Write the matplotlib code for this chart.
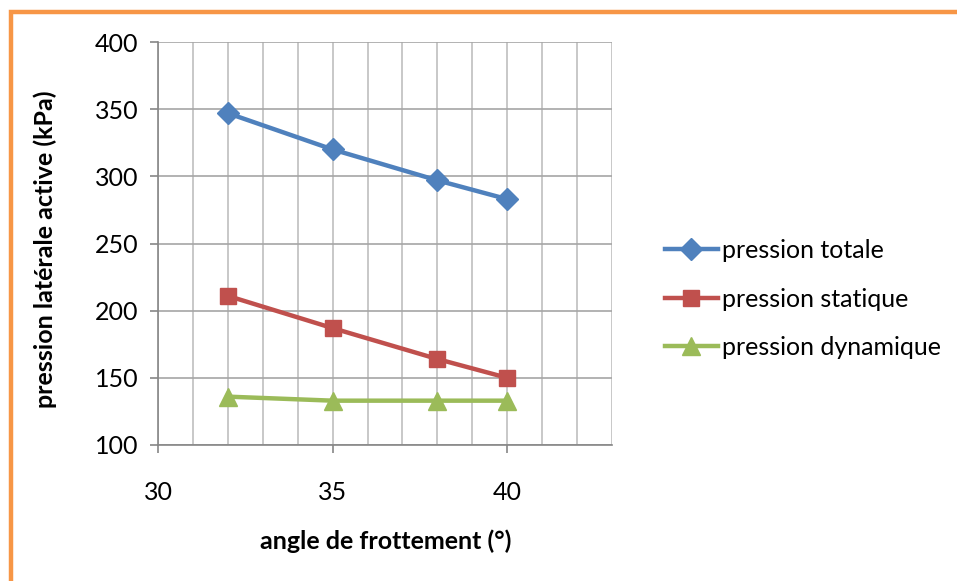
import matplotlib
matplotlib.use("Agg")
import matplotlib.pyplot as plt
from matplotlib.patches import Rectangle
from matplotlib.ticker import MultipleLocator

plt.rcParams['font.family'] = ['Lato', 'DejaVu Sans']

angles = [32, 35, 38, 40]
p_totale = [347, 320, 297, 283]
p_statique = [211, 187, 164, 150]
p_dynamique = [136, 133, 133, 133]
labels = ["pression totale", "pression statique", "pression dynamique"]

W, H = 957, 581
fig = plt.figure(figsize=(W / 100, H / 100), dpi=100)
ax = fig.add_axes([158 / W, 1 - 445 / H, (612 - 158) / W, (445 - 42) / H])

ax.plot(angles, p_totale, color='#4F81BD', lw=3.2, marker='D', ms=11, label=labels[0])
ax.plot(angles, p_statique, color='#C0504D', lw=3.2, marker='s', ms=11, label=labels[1])
ax.plot(angles, p_dynamique, color='#9BBB59', lw=3.2, marker='^', ms=13, label=labels[2])

ax.set_xlim(30, 43)
ax.set_ylim(100, 400)
ax.set_xticks([30, 35, 40])
ax.xaxis.set_minor_locator(MultipleLocator(1))
ax.set_yticks(range(100, 401, 50))
ax.grid(True, which='both', axis='x', color='#BFBFBF', lw=1.2)
ax.grid(True, which='major', axis='y', color='#A6A6A6', lw=1.2)
ax.set_axisbelow(True)
ax.tick_params(axis='x', which='minor', length=0)
ax.tick_params(axis='both', which='major', length=6, width=1.2, color='#868686', labelsize=18, pad=20)
ax.tick_params(axis='y', pad=8)
for s in ['left', 'bottom']:
    ax.spines[s].set_color('#868686')
    ax.spines[s].set_linewidth(1.2)
for s in ['top', 'right']:
    ax.spines[s].set_visible(False)

ax.set_xlabel("angle de frottement (°)", fontsize=18, fontweight='bold', va='center')
ax.set_ylabel("pression latérale active (kPa)", fontsize=18, fontweight='bold', va='center')
ax.xaxis.set_label_coords(0.502, -0.238)
ax.yaxis.set_label_coords(-0.249, 0.486)

ax.legend(loc='center left', bbox_to_anchor=(665 / W, 1 - 299 / H), bbox_transform=fig.transFigure,
          frameon=False, fontsize=18, handlelength=2.1, handletextpad=0.2, labelspacing=1.02,
          borderaxespad=0, borderpad=0)

fig.patches.append(Rectangle((11 / W, -0.1), 1.2, 1 - 12 / H + 0.1, transform=fig.transFigure,
                             fill=False, edgecolor='#F79646', lw=3.2, clip_on=False))

fig.savefig("out.png", dpi=100)
